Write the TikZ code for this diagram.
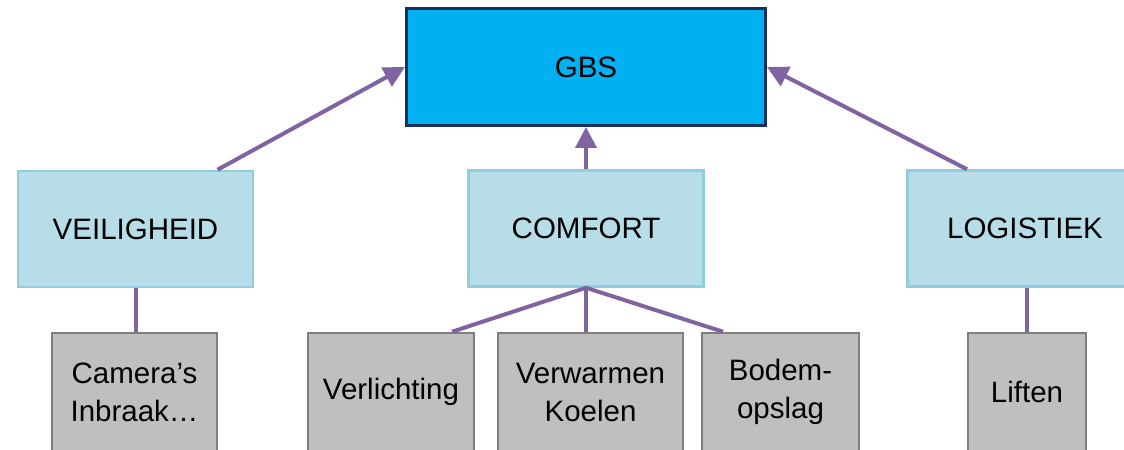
\documentclass[tikz,border=0pt]{standalone}
\usepackage{fontspec}
\setmainfont{Liberation Sans}
\usetikzlibrary{arrows.meta}

\definecolor{gbsblue}{HTML}{00B0F0}
\definecolor{gbsrand}{HTML}{17305E}
\definecolor{groepblauw}{HTML}{B7DEE8}
\definecolor{groeprand}{HTML}{92CDDC}
\definecolor{taakgrijs}{HTML}{BFBFBF}
\definecolor{taakrand}{HTML}{7F7F7F}
\definecolor{lijnpaars}{HTML}{8064A2}

\begin{document}
\begin{tikzpicture}
        [x=1bp, y=-1bp,
        every node/.style={font=\fontsize{29.5bp}{38bp}\selectfont, inner sep=0pt, align=center},
        hoofd/.style={draw=gbsrand, line width=3bp, fill=gbsblue, minimum width=359bp, minimum height=117bp},
        groep/.style={draw=groeprand, line width=2.5bp, fill=groepblauw, minimum width=235bp, minimum height=116bp},
        taak/.style={draw=taakrand, line width=2.5bp, fill=taakgrijs, minimum height=118bp},
        pijl/.style={draw=lijnpaars, line width=4bp, -{Triangle[length=21bp, width=21bp]}},
        tak/.style={draw=lijnpaars, line width=4bp}]

    \useasboundingbox (0,0) rectangle (1124,450);

    % bovenste niveau
    \node[hoofd] (gbs) at (586,67) {GBS};

    % groepen
    \node[groep] (veil) at (135.5,229) {VEILIGHEID};
    \node[groep] (comf) at (586,228.5) {COMFORT};
    \node[groep] (logi) at (1025,228.5) {LOGISTIEK};

    % onderdelen
    \node[taak, minimum width=165bp] (cam) at (134.5,392) {Camera’s\\Inbraak…};
    \node[taak, minimum width=166bp] (verl) at (391,392) {Verlichting};
    \node[taak, minimum width=185bp] (warm) at (590.5,392) {Verwarmen\\Koelen};
    \node[taak, minimum width=157bp] (bodem) at (780.5,392) {Bodem-\\opslag};
    \node[taak, minimum width=118bp] (lift) at (1027,392) {Liften};

    \draw[pijl] ([xshift=82bp]veil.north) -- (gbs.west);
    \draw[pijl] (comf.north) -- (gbs.south);
    \draw[pijl] ([xshift=-58bp]logi.north) -- (gbs.east);

    \draw[tak] (veil.south) -- (veil.south |- cam.north);
    \draw[tak] (comf.south) -- ([xshift=61bp]verl.north);
    \draw[tak] (comf.south) -- (comf.south |- warm.north);
    \draw[tak] (comf.south) -- ([xshift=-57.5bp]bodem.north);
    \draw[tak] (lift.north |- logi.south) -- (lift.north);
\end{tikzpicture}
\end{document}
